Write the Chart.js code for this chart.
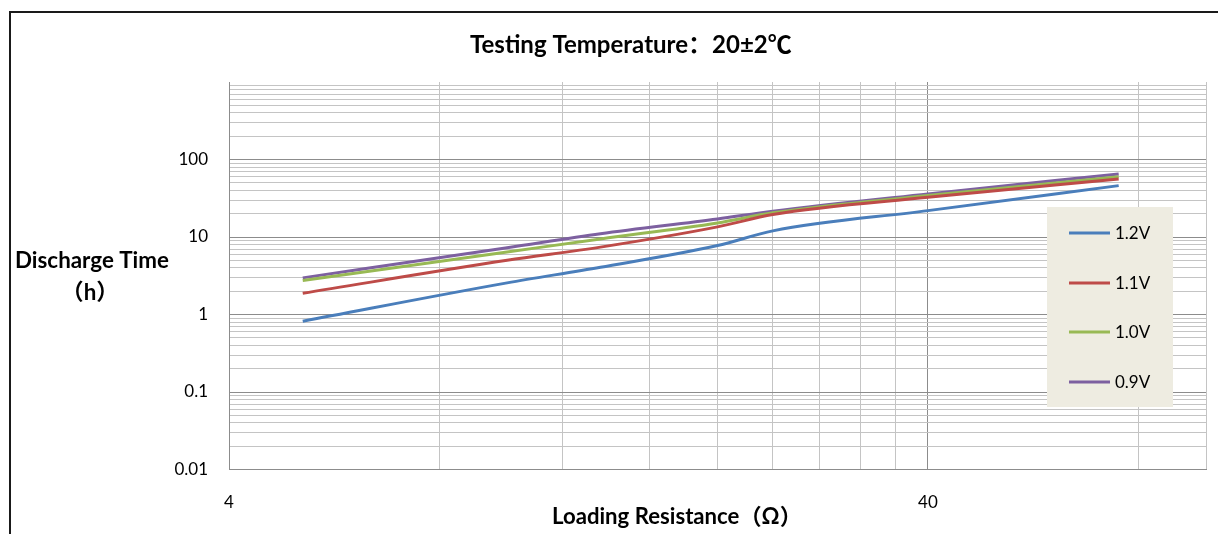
<!DOCTYPE html>
<html>
<head>
<meta charset="utf-8">
<script src="https://cdn.jsdelivr.net/npm/chart.js@4/dist/chart.umd.min.js"></script>
<style>
  html, body { margin: 0; padding: 0; background: #fff; }
  #wrap { width: 1218px; height: 534px; position: relative; }
</style>
</head>
<body>
<div id="wrap"><canvas id="c" width="1218" height="534"></canvas></div>
<script>
// ---- data ----
const resistance = [5.1, 10, 13.6, 20, 24, 40, 75];
const time12V = [0.82, 2.56, 4.07, 7.75, 12.0, 21.9, 46];
const time11V = [1.88, 5.0, 7.4, 13.5, 19.5, 32.5, 56];
const time10V = [2.74, 6.4, 9.45, 15.2, 20.5, 34.2, 60];
const time09V = [2.97, 7.26, 11.0, 17.1, 21.5, 35.9, 65];
const seriesNames = ['1.2V', '1.1V', '1.0V', '0.9V'];
const xTickValues = [4, 8, 12, 16, 20, 24, 28, 32, 36, 40, 80, 100];
const xTickLabels = ['4', '40'];
const yDecades = [0.01, 0.1, 1, 10, 100];
const yTickLabels = ['0.01', '0.1', '1', '10', '100'];
const titleText = 'Testing Temperature：20±2℃';
const yTitleLines = ['Discharge Time', '（h）'];
const xTitleText = 'Loading Resistance（Ω）';

const colors = ['#4A7EBB', '#BE4B48', '#98B954', '#7D60A0'];
const seriesValues = [time12V, time11V, time10V, time09V];

// build y tick values (decades + minors 2..9), up to 1000
const yTickValues = [];
yDecades.forEach(d => { for (let k = 1; k <= 9; k++) yTickValues.push(+(d * k).toPrecision(6)); });
yTickValues.push(1000);

const FONT = "Lato, 'Noto Sans CJK SC', sans-serif";

function isDecade(v) { const l = Math.log10(v); return Math.abs(l - Math.round(l)) < 1e-6; }

function fitFont(ctx, text, target, weight) {
  ctx.font = weight + " 20px " + FONT;
  const w = ctx.measureText(text).width;
  const size = 20 * target / w;
  ctx.font = weight + " " + size.toFixed(2) + "px " + FONT;
  return size;
}

const deco = {
  id: 'deco',
  beforeDraw(chart) {
    const ctx = chart.ctx;
    ctx.save();
    ctx.fillStyle = '#ffffff';
    ctx.fillRect(0, 0, chart.width, chart.height);
    ctx.strokeStyle = '#1a1a1a';
    ctx.lineWidth = 2;
    ctx.beginPath();
    ctx.moveTo(10, 534);
    ctx.lineTo(10, 12);
    ctx.lineTo(1218, 12);
    ctx.stroke();
    ctx.restore();
  },
  afterDraw(chart) {
    const ctx = chart.ctx;
    ctx.save();
    ctx.fillStyle = '#000';
    ctx.textBaseline = 'middle';
    // title
    fitFont(ctx, titleText, 322, 'bold');
    ctx.textAlign = 'left';
    ctx.fillText(titleText, 470, 45);
    // y title
    fitFont(ctx, yTitleLines[0], 154, 'bold');
    ctx.textAlign = 'center';
    ctx.fillText(yTitleLines[0], 92, 261);
    ctx.fillText(yTitleLines[1], 90, 293);
    // x title
    fitFont(ctx, xTitleText, 250, 'bold');
    ctx.textAlign = 'left';
    ctx.fillText(xTitleText, 552, 517);
    // legend
    ctx.fillStyle = '#EEECE1';
    ctx.fillRect(1047, 207, 126, 200);
    const ys = [233, 283, 332, 382];
    ctx.font = "17px " + FONT;
    ctx.textAlign = 'left';
    seriesNames.forEach((n, i) => {
      ctx.strokeStyle = colors[i];
      ctx.lineWidth = 3;
      ctx.beginPath();
      ctx.moveTo(1069, ys[i]);
      ctx.lineTo(1110, ys[i]);
      ctx.stroke();
      ctx.fillStyle = '#000';
      ctx.fillText(n, 1115, ys[i] + 1);
    });
    ctx.restore();
  }
};

new Chart(document.getElementById('c'), {
  type: 'line',
  data: {
    datasets: seriesNames.map((n, i) => ({
      label: n,
      data: resistance.map((r, j) => ({ x: r, y: seriesValues[i][j] })),
      borderColor: colors[i],
      backgroundColor: colors[i],
      borderWidth: 3,
      pointRadius: 0,
      cubicInterpolationMode: 'monotone',
      fill: false
    }))
  },
  options: {
    responsive: false,
    animation: false,
    devicePixelRatio: 1,
    layout: { padding: { left: 0, top: 82, right: 12, bottom: 0 } },
    plugins: { legend: { display: false }, title: { display: false }, tooltip: { enabled: false } },
    scales: {
      x: {
        type: 'logarithmic',
        min: 4, max: 100,
        afterBuildTicks: s => { s.ticks = xTickValues.map(v => ({ value: v })); },
        afterFit: s => { s.height = 64.5; s.paddingLeft = 0; s.paddingRight = 0; },
        ticks: {
          autoSkip: false, maxRotation: 0, padding: 23,
          color: '#000', font: { family: FONT, size: 17 },
          callback: v => xTickLabels.includes(String(v)) ? String(v) : ''
        },
        grid: {
          drawTicks: false,
          color: c => (c.tick && (c.tick.value === 40)) ? '#8c8c8c' : '#c4c4c4',
          lineWidth: 1
        },
        border: { color: '#8c8c8c', width: 1 }
      },
      y: {
        type: 'logarithmic',
        min: 0.01, max: 1000,
        afterBuildTicks: s => { s.ticks = yTickValues.map(v => ({ value: v })); },
        afterFit: s => { s.width = 229; s.paddingTop = 0; s.paddingBottom = 0; },
        ticks: {
          autoSkip: false, padding: 21,
          color: '#000', font: { family: FONT, size: 17 },
          callback: v => { const i = yDecades.findIndex(d => Math.abs(d - v) < 1e-9); return i >= 0 ? yTickLabels[i] : ''; }
        },
        grid: {
          drawTicks: false,
          color: c => {
            if (!c.tick) return '#c4c4c4';
            if (c.tick.value === 1000) return 'rgba(0,0,0,0)';
            return isDecade(c.tick.value) ? '#8c8c8c' : '#c4c4c4';
          },
          lineWidth: 1
        },
        border: { color: '#8c8c8c', width: 1 }
      }
    }
  },
  plugins: [deco]
});
</script>
</body>
</html>
